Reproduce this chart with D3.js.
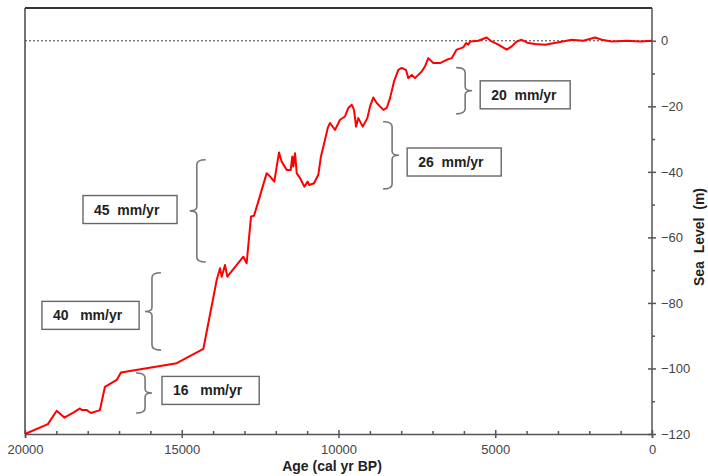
<!DOCTYPE html>
<html lang="en">
<head>
<meta charset="UTF-8">
<title>Sea level</title>
<script src="https://d3js.org/d3.v7.min.js"></script>
<style>
  body { margin: 0; background: #fff; }
  text { font-family: Arial, "Liberation Sans", sans-serif; }
</style>
</head>
<body>
<svg id="chart" width="708" height="476"></svg>
<script>
// age in cal yr BP, sea level in m
var ages = [20000, 19270, 18990, 18745, 18460, 18245, 18190, 18030, 17895, 17610,
  17450, 17075, 16940, 15160, 14310, 13885, 13780, 13725, 13620, 13545,
  13035, 12930, 12790, 12695, 12558, 12449, 12290, 12185, 12047, 11971,
  11897, 11811, 11652, 11524, 11473, 11441, 11387, 11333, 11228, 11090,
  10982, 10931, 10781, 10644, 10560, 10430, 10340, 10270, 10110, 9951,
  9792, 9686, 9578, 9505, 9441, 9368, 9227, 9081, 8995, 8889,
  8781, 8570, 8462, 8356, 8229, 8092, 7983, 7846, 7773, 7665,
  7560, 7454, 7345, 7240, 7135, 6975, 6762, 6548, 6390, 6230,
  6020, 5930, 5860, 5805, 5540, 5275, 5115, 4900, 4635, 4475,
  4315, 4155, 3945, 3730, 3410, 2935, 2560, 2190, 1815, 1600,
  1285, 805, 380, 0];
var seaLevel = [-120, -117, -112.9, -115, -113.5, -112.2, -112.7, -112.7, -113.6, -112.7,
  -105.6, -103.5, -101.2, -98.4, -94, -73, -69.4, -72, -68.4, -72,
  -65.9, -67.9, -53.6, -53.4, -49.1, -45.5, -40.4, -41.4, -43, -38.4,
  -34.1, -36.9, -39.4, -39.4, -35.3, -38.4, -34.3, -40.4, -41.9, -44.5,
  -43, -44, -43.5, -40.9, -35.3, -30.2, -26.5, -25.1, -27.2, -24.1,
  -23.1, -20.5, -19.5, -21.1, -26.2, -23.6, -26.2, -23.6, -20.1, -17.3,
  -19, -21.1, -20.5, -17.5, -12.4, -8.9, -8.3, -8.9, -11.4, -10.4,
  -11.4, -10.4, -9.4, -7.8, -5.3, -6.8, -6.8, -5.8, -5.3, -2.7,
  -2, -0.7, -1.2, -0.2, 0, 1, -0.2, -1.2, -2.7, -1.7,
  -0.2, 0.3, -0.7, -1, -1.2, -0.4, 0.3, 0, 1, 0.3,
  -0.2, 0, -0.2, 0];

var xTicks = [20000, 15000, 10000, 5000, 0];
var yTicks = [0, -20, -40, -60, -80, -100, -120];

// rate annotations: brace at braceAge spanning [top, bottom], box between boxFrom..boxTo
var rateLabels = ["45  mm/yr", "40   mm/yr", "16   mm/yr", "26  mm/yr", "20  mm/yr"];
var braceAge =   [14520, 15950, 16170, 8290, 5960];
var braceTop =   [-36.3, -70.8, -101.4, -24.7, -8.2];
var braceBot =   [-67.5, -94.4, -113.6, -45.2, -22.3];
var boxFrom =    [18150, 19460, 15630, 7810, 5480];
var boxTo =      [15150, 16360, 12530, 4810, 2610];
var boxMid =     [-51.5, -83.8, -106.7, -37.0, -16.5];

var svg = d3.select("#chart");
var pLeft = 25, pRight = 652, pTop = 8, pBottom = 434;

var x = d3.scaleLinear().domain([20000, 0]).range([pLeft, pRight]);
var y = d3.scaleLinear().domain([-120, 10]).range([pBottom, pTop]);

// frame
svg.append("line").attr("x1", pLeft).attr("x2", pRight).attr("y1", pTop).attr("y2", pTop)
  .attr("stroke", "#333").attr("stroke-width", 2);
svg.append("line").attr("x1", pLeft).attr("x2", pLeft).attr("y1", pTop).attr("y2", pBottom)
  .attr("stroke", "#444").attr("stroke-width", 1.5);

// zero line
svg.append("line").attr("x1", pLeft).attr("x2", pRight).attr("y1", y(0)).attr("y2", y(0))
  .attr("stroke", "#444").attr("stroke-width", 1).attr("stroke-dasharray", "2,2");

// bottom axis
var xg = svg.append("g").attr("transform", "translate(0," + pBottom + ")")
  .call(d3.axisBottom(x).tickValues(xTicks).tickFormat(d3.format("d")).tickSize(4).tickPadding(7));
xg.selectAll(".tick line").attr("y1", -4).attr("y2", 4);
svg.append("g").attr("transform", "translate(0," + pBottom + ")")
  .call(d3.axisTop(x).tickValues(d3.range(0, 20001, 1000).filter(function (d) { return d % 5000; }))
    .tickFormat("").tickSize(3))
  .select(".domain").remove();

// right axis
var yg = svg.append("g").attr("transform", "translate(" + pRight + ",0)")
  .call(d3.axisRight(y).tickValues(yTicks).tickSize(4).tickPadding(5));
yg.selectAll(".tick line").attr("x1", -4).attr("x2", 4);
yg.select(".domain").attr("d", "M0," + pTop + "V" + pBottom);
svg.append("g").attr("transform", "translate(" + pRight + ",0)")
  .call(d3.axisRight(y).tickValues(d3.range(-110, 0, 20)).tickFormat("").tickSize(3))
  .select(".domain").remove();

svg.selectAll(".domain, .tick line").attr("stroke", "#555").attr("stroke-width", 1.5);
svg.selectAll(".tick text").attr("font-size", 13).attr("fill", "#444")
  .attr("font-family", "Arial, 'Liberation Sans', sans-serif");

// axis titles
svg.append("text").attr("x", 332).attr("y", 471).attr("text-anchor", "middle")
  .attr("font-size", 14).attr("font-weight", "bold").attr("fill", "#222")
  .text("Age (cal yr BP)");
svg.append("text").attr("transform", "translate(704,237) rotate(-90)")
  .attr("text-anchor", "middle").attr("font-size", 14).attr("font-weight", "bold")
  .attr("fill", "#222").style("white-space", "pre")
  .text("Sea  Level  (m)");

// the curve
var pts = ages.map(function (a, i) { return [a, seaLevel[i]]; });
var line = d3.line().x(function (d) { return x(d[0]); }).y(function (d) { return y(d[1]); });
svg.append("path").datum(pts).attr("d", line)
  .attr("fill", "none").attr("stroke", "#ff0000").attr("stroke-width", 2)
  .attr("stroke-linejoin", "round");

// braces + boxes
function brace(bx, y1, y2, dir) {
  // dir = 1: arms to the right, tip to the left; dir = -1: mirrored
  var arm = 9 * dir, tip = -7 * dir, ym = (y1 + y2) / 2;
  return "M" + (bx + arm) + "," + y1 +
    "Q" + bx + "," + y1 + " " + bx + "," + (y1 + 5) +
    "L" + bx + "," + (ym - 4) +
    "Q" + bx + "," + ym + " " + (bx + tip) + "," + ym +
    "Q" + bx + "," + ym + " " + bx + "," + (ym + 4) +
    "L" + bx + "," + (y2 - 5) +
    "Q" + bx + "," + y2 + " " + (bx + arm) + "," + y2;
}

rateLabels.forEach(function (lab, i) {
  var bx = x(braceAge[i]);
  var boxL = x(boxFrom[i]), boxR = x(boxTo[i]);
  var dir = boxL < bx ? 1 : -1;
  svg.append("path").attr("d", brace(bx, y(braceTop[i]), y(braceBot[i]), dir))
    .attr("fill", "none").attr("stroke", "#777").attr("stroke-width", 1.6);
  var cy = y(boxMid[i]);
  svg.append("rect").attr("x", boxL).attr("y", cy - 14).attr("width", boxR - boxL).attr("height", 28)
    .attr("fill", "#fff").attr("stroke", "#666").attr("stroke-width", 1.4);
  svg.append("text").attr("x", boxL + 11).attr("y", cy + 5)
    .attr("font-size", 14).attr("font-weight", "bold").attr("fill", "#222")
    .style("white-space", "pre").text(lab);
});
</script>
</body>
</html>
